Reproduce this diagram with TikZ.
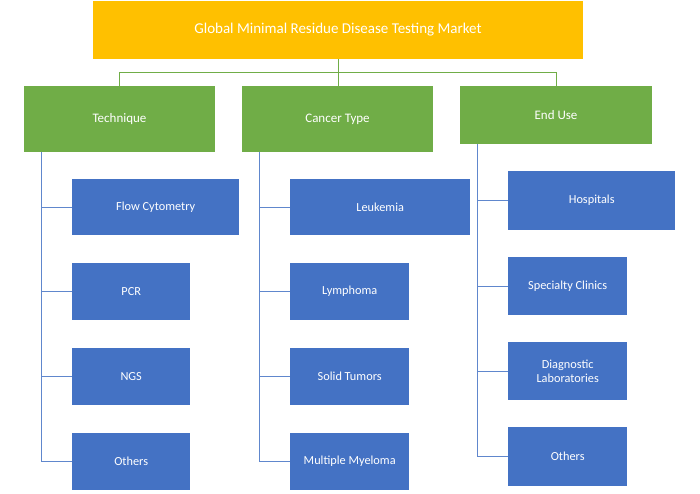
\documentclass[tikz,border=0pt]{standalone}
\usepackage{fontspec}
\setmainfont{Carlito}
\usetikzlibrary{positioning}
\definecolor{mktgold}{HTML}{FFC000}
\definecolor{mktgreen}{HTML}{70AD47}
\definecolor{mktblue}{HTML}{4472C4}
\tikzset{
  headbox/.style={fill=mktgold, text=white, inner sep=0pt, minimum width=490pt, minimum height=58pt, font=\fontsize{15}{17}\selectfont},
  catbox/.style={fill=mktgreen, text=white, inner sep=0pt, minimum width=191pt, font=\fontsize{13}{15}\selectfont},
  subbox/.style={fill=mktblue, text=white, inner sep=0pt, anchor=west, align=center, font=\fontsize{12.3}{14}\selectfont},
  greenline/.style={draw=mktgreen, line width=0.9pt},
  blueline/.style={draw=mktblue!85!white, line width=0.9pt}
}
\begin{document}
\begin{tikzpicture}[x=1pt, y=-1pt]
\useasboundingbox (0,0) rectangle (700,493);

\node[headbox] (market) at (338,30) {Global Minimal Residue Disease Testing Market};
\node[catbox, minimum height=66pt] (tech) at (119.5,119) {Technique};
\node[catbox, minimum height=66pt] (cancer) at (337.5,119) {Cancer Type};
\node[catbox, minimum height=58pt, minimum width=192pt] (enduse) at (556,115) {End Use};

\draw[greenline] (market.south) -- ++(0,13) -| (tech.north);
\draw[greenline] (market.south) -- ++(0,13) -| (enduse.north);
\draw[greenline] (market.south) -- (market.south |- cancer.north);

\coordinate (t_top) at ([xshift=18pt]tech.south west);
\foreach \y/\w/\h/\t [count=\i] in%
    {207/167/56/Flow Cytometry,
     291.5/118/57/PCR,
     376.5/118/57/NGS,
     461.5/118/57/Others} {
  \node[subbox, minimum width=\w pt, minimum height=\h pt] (t_\i) at (72,\y) {\t};
  \draw[blueline] (t_\i.west) -- (t_\i.west -| t_top);
}
\draw[blueline] (t_top) -- (t_top |- t_4.west);

\coordinate (c_top) at ([xshift=18pt]cancer.south west);
\foreach \y/\w/\h/\t [count=\i] in%
    {207/180/56/Leukemia,
     291.5/119/57/Lymphoma,
     376.5/119/57/Solid Tumors,
     461.5/119/57/Multiple Myeloma} {
  \node[subbox, minimum width=\w pt, minimum height=\h pt] (c_\i) at (290,\y) {\t};
  \draw[blueline] (c_\i.west) -- (c_\i.west -| c_top);
}
\draw[blueline] (c_top) -- (c_top |- c_4.west);

\coordinate (e_top) at ([xshift=18pt]enduse.south west);
\foreach \y/\w/\h/\t [count=\i] in%
    {200.5/167/59/Hospitals,
     286/119/58/Specialty Clinics,
     371/119/58/{Diagnostic\\Laboratories},
     456.5/119/59/Others} {
  \node[subbox, minimum width=\w pt, minimum height=\h pt] (e_\i) at (508,\y) {\t};
  \draw[blueline] (e_\i.west) -- (e_\i.west -| e_top);
}
\draw[blueline] (e_top) -- (e_top |- e_4.west);

\end{tikzpicture}
\end{document}
